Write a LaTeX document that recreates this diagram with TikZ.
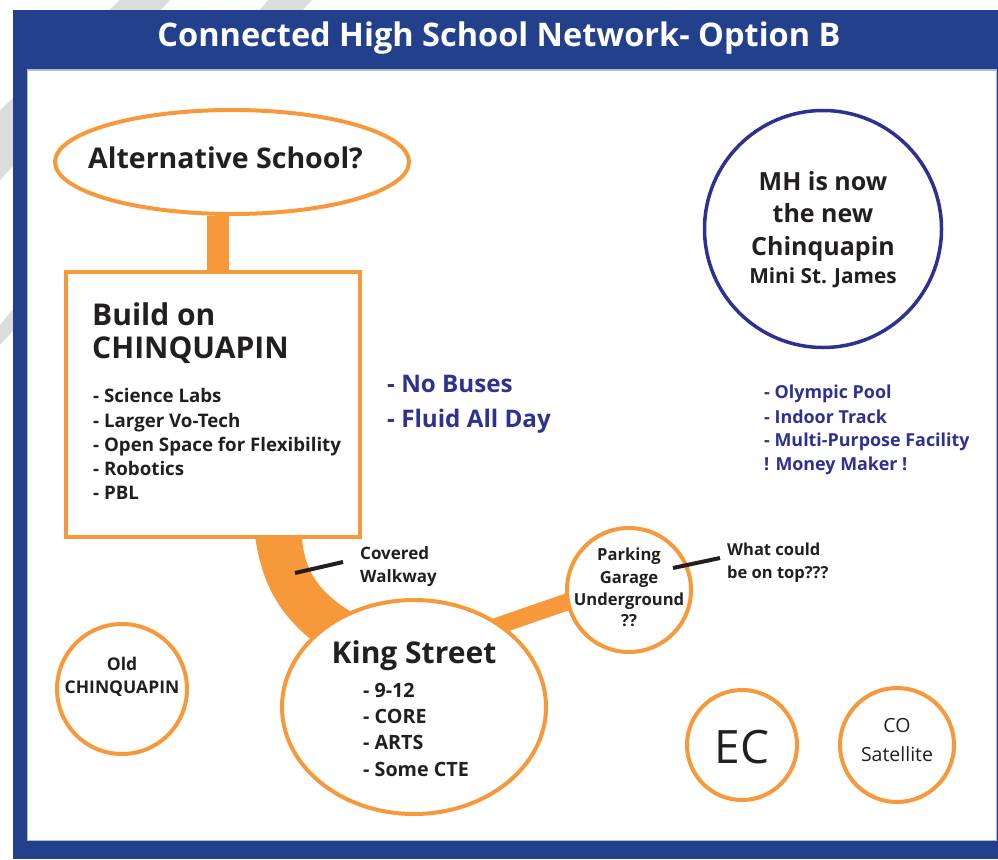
\documentclass[tikz,border=0pt]{standalone}
\usepackage{fontspec}
\setmainfont{Open Sans}
\usetikzlibrary{shapes.geometric,backgrounds}
\definecolor{frameblue}{HTML}{22408B}
\definecolor{navy}{HTML}{2E3192}
\definecolor{orng}{HTML}{F7993A}
\definecolor{ink}{HTML}{231F20}
\definecolor{stripegrey}{HTML}{DCDCDC}
\definecolor{edgeblue}{HTML}{AEB8DA}
\newcommand\fsz[1]{\fontsize{#1}{#1}\selectfont}
\begin{document}
\begin{tikzpicture}[x=1pt,y=-1pt,
  oshape/.style={draw=orng, line width=4pt, fill=white, inner sep=0pt},
  lbl/.style={anchor=base west, inner sep=0pt, text=ink},
  clbl/.style={anchor=base, inner sep=0pt, text=ink},
  bnav/.style={anchor=base west, inner sep=0pt, text=navy},
  leader/.style={draw=ink, line width=4pt}
]
\useasboundingbox (0,0) rectangle (998,859);

% nodes
\node[ellipse, oshape, minimum width=354, minimum height=104] (alt) at (232,162) {};
\node[rectangle, oshape, minimum width=294, minimum height=265] (build) at (213,404.5) {};
\node[circle, draw=navy, line width=3.5pt, fill=white, minimum size=237, inner sep=0pt] (mh) at (823,229) {};
\node[ellipse, oshape, minimum width=264, minimum height=214] (king) at (414,707) {};
\node[circle, oshape, minimum size=124] (park) at (629,590) {};
\node[circle, oshape, minimum size=130] (old) at (122,689) {};
\node[circle, oshape, minimum size=110] (ec) at (742,745) {};
\node[circle, oshape, minimum size=114] (co) at (897,745) {};

\begin{pgfonlayer}{background}
  \fill[stripegrey] (120,0) -- (170,0) -- (0,180) -- (0,110) -- cycle;
  \fill[stripegrey] (268,0) -- (312,0) -- (0,345) -- (0,325) -- cycle;
  \fill[frameblue] (13,10) rectangle (998,859);
  \fill[white] (27,70) rectangle (996,840);
  \draw[edgeblue, line width=1pt] (27,70) rectangle (996,840);
  % connectors
  \draw[orng, line width=22pt] ([xshift=-14pt]alt.south) -- ([xshift=-14pt]alt.south |- build.north);
  \fill[orng] (255,535) .. controls (262,590) and (285,620) .. (318,645)
     -- (362,618) .. controls (322,597) and (303,572) .. (302,535) -- cycle;
  \draw[orng, line width=17pt] (480,632) -- (590,594);
\end{pgfonlayer}

% title
\node[anchor=base, inner sep=0pt, text=white, font=\fsz{32.5}\bfseries] (title) at (499,47) {Connected High School Network- Option B};

% alternative
\node[lbl, font=\fsz{28.5}\bfseries] (altt) at (88,168) {Alternative School?};

% build
\node[lbl, font=\fsz{30}\bfseries] (b1) at (92,325) {Build on};
\node[lbl, font=\fsz{30}\bfseries] (b2) at (92,358) {CHINQUAPIN};
\node[lbl, font=\fsz{18.7}\bfseries] (b3) at (93,402) {- Science Labs};
\node[lbl, font=\fsz{18.7}\bfseries] (b4) at (93,427) {- Larger Vo-Tech};
\node[lbl, font=\fsz{18.7}\bfseries] (b5) at (93,451) {- Open Space for Flexibility};
\node[lbl, font=\fsz{18.7}\bfseries] (b6) at (93,475) {- Robotics};
\node[lbl, font=\fsz{18.7}\bfseries] (b7) at (93,499) {- PBL};

% no buses
\node[bnav, font=\fsz{24.2}\bfseries] (n1) at (387,392) {- No Buses};
\node[bnav, font=\fsz{24.2}\bfseries] (n2) at (387,427) {- Fluid All Day};

% MH
\node[clbl, font=\fsz{25}\bfseries] (m1) at (823,190) {MH is now};
\node[clbl, font=\fsz{25}\bfseries] (m2) at (823,222) {the new};
\node[clbl, font=\fsz{25}\bfseries] (m3) at (823,255) {Chinquapin};
\node[clbl, font=\fsz{20.8}\bfseries] (m4) at (823,283) {Mini St. James};

% right list
\node[bnav, font=\fsz{17.9}\bfseries] (r1) at (764,398) {- Olympic Pool};
\node[bnav, font=\fsz{17.9}\bfseries] (r2) at (764,423) {- Indoor Track};
\node[bnav, font=\fsz{17.9}\bfseries] (r3) at (764,446) {- Multi-Purpose Facility};
\node[bnav, font=\fsz{17.9}\bfseries] (r4) at (764,470) {! Money Maker !};

% covered walkway
\coordinate (cw1) at (295,573);
\coordinate (cw2) at (343,562);
\draw[leader] (cw1) -- (cw2);
\node[lbl, font=\fsz{17}\bfseries] (c1) at (360,559) {Covered};
\node[lbl, font=\fsz{17}\bfseries] (c2) at (360,582) {Walkway};

% parking
\node[clbl, font=\fsz{16.6}\bfseries] (p1) at (629,560) {Parking};
\node[clbl, font=\fsz{16.6}\bfseries] (p2) at (629,583) {Garage};
\node[clbl, font=\fsz{16.6}\bfseries] (p3) at (629,605) {Underground};
\node[clbl, font=\fsz{16.6}\bfseries] (p4) at (629,626) {??};
\coordinate (wt1) at (673,568);
\coordinate (wt2) at (720,558);
\draw[leader] (wt1) -- (wt2);
\node[lbl, font=\fsz{16.5}\bfseries] (w1) at (727,555) {What could};
\node[lbl, font=\fsz{16.5}\bfseries] (w2) at (727,578) {be on top???};

% king street
\node[clbl, font=\fsz{30}\bfseries] (k0) at (414,663) {King Street};
\node[lbl, font=\fsz{19.7}\bfseries] (k1) at (363,697) {- 9-12};
\node[lbl, font=\fsz{19.7}\bfseries] (k2) at (363,723) {- CORE};
\node[lbl, font=\fsz{19.7}\bfseries] (k3) at (363,749) {- ARTS};
\node[lbl, font=\fsz{19.7}\bfseries] (k4) at (363,776) {- Some CTE};

% old
\node[clbl, font=\fsz{17.5}\bfseries] (o1) at (122,670) {Old};
\node[clbl, font=\fsz{17.5}\bfseries] (o2) at (122,693) {CHINQUAPIN};

% EC and CO
\node[clbl, font=\fsz{46}] (ect) at (742,763) {EC};
\node[clbl, font=\fsz{19.5}] (co1) at (897,732) {CO};
\node[clbl, font=\fsz{19.5}] (co2) at (897,761) {Satellite};
\end{tikzpicture}
\end{document}
